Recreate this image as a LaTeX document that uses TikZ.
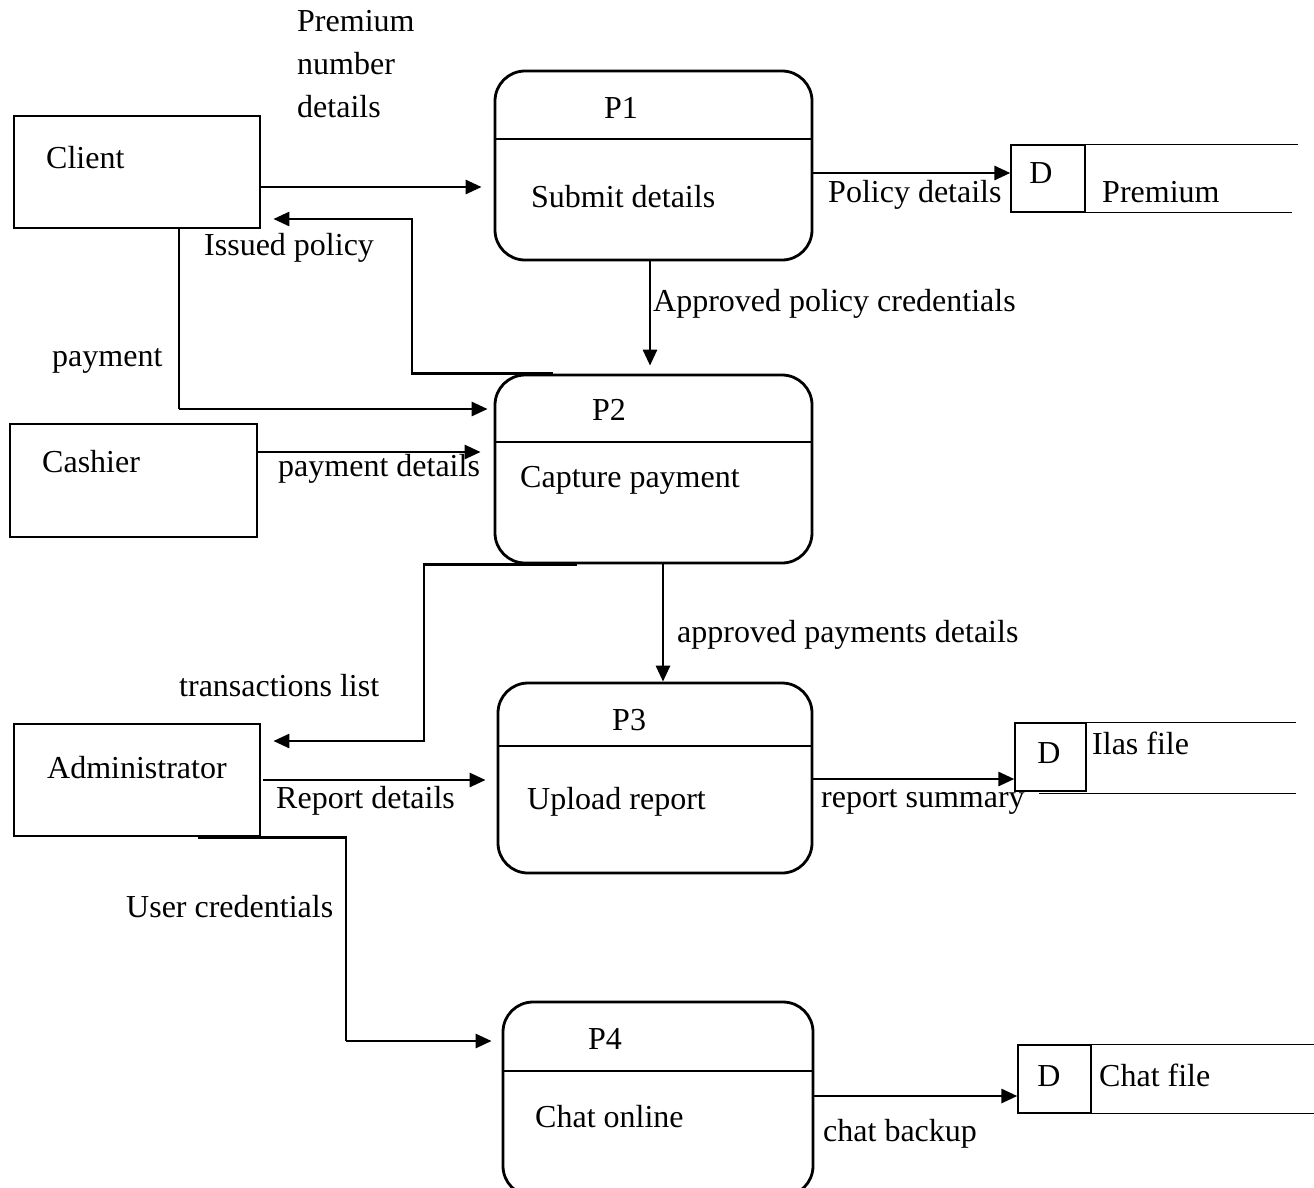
\documentclass[tikz,border=0pt]{standalone}
\usepackage{fontspec}
\setmainfont{Liberation Serif}
\usetikzlibrary{arrows.meta}
\begin{document}
\begin{tikzpicture}[x=1pt,y=-1pt,
  ent/.style={draw, line width=2.8pt, inner sep=0pt},
  proc/.style={draw, line width=2.8pt, rounded corners=30pt, inner sep=0pt},
  dbox/.style={draw, line width=1.3pt, inner sep=0pt},
  thinline/.style={line width=1.3pt},
  flow/.style={line width=2.8pt, -{Triangle[length=16pt,width=14pt]}},
  txt/.style={anchor=west, inner sep=0pt, text height=21pt, text depth=0pt,
              font=\fontsize{32}{40}\selectfont},
  ctxt/.style={txt, anchor=center},
]
\useasboundingbox (0,0) rectangle (1314,1187);
\clip (0,0) rectangle (1314,1187);
\fill[white] (0,0) rectangle (1314,1187);

% external entities
\node[ent, minimum width=246pt, minimum height=112pt] (client)  at (137,172)   {};
\node[ent, minimum width=247pt, minimum height=113pt] (cashier) at (133.5,480.5) {};
\node[ent, minimum width=246pt, minimum height=112pt] (admin)   at (137,780)   {};
\node[txt] (clientT)  at (46,158) {Client};
\node[txt] (cashierT) at (42,462) {Cashier};
\node[txt] (adminT)   at (47,768) {Administrator};

% processes
\node[proc, minimum width=317pt, minimum height=189pt] (P1) at (653.5,165.5) {};
\node[proc, minimum width=317pt, minimum height=188pt] (P2) at (653.5,469)   {};
\node[proc, minimum width=314pt, minimum height=190pt] (P3) at (655,778)     {};
\node[proc, minimum width=310pt, minimum height=194pt] (P4) at (658,1099)    {};
\draw[thinline] (P1.west |- 0,139)  -- (P1.east |- 0,139);
\draw[thinline] (P2.west |- 0,442)  -- (P2.east |- 0,442);
\draw[thinline] (P3.west |- 0,746)  -- (P3.east |- 0,746);
\draw[thinline] (P4.west |- 0,1071) -- (P4.east |- 0,1071);
\node[txt] (P1id) at (604,108)  {P1};
\node[txt] (P1n)  at (531,197)  {Submit details};
\node[txt] (P2id) at (592,410)  {P2};
\node[txt] (P2n)  at (520,477)  {Capture payment};
\node[txt] (P3id) at (612,720)  {P3};
\node[txt] (P3n)  at (527,799)  {Upload report};
\node[txt] (P4id) at (588,1039) {P4};
\node[txt] (P4n)  at (535,1117) {Chat online};

% data stores
\node[dbox, minimum width=74pt, minimum height=67pt] (dPrem) at (1048,178.5) {};
\draw[thinline] (dPrem.north east) -- ++(212,0);
\draw[thinline] ([xshift=22pt]dPrem.south west) -- ++(260,0);
\node[ctxt] (dPremD) at (1041,173) {D};
\node[txt] (dPremT) at (1102,192) {Premium};

\node[dbox, minimum width=71pt, minimum height=68pt] (dIlas) at (1050.5,757) {};
\draw[thinline] ([xshift=25pt]dIlas.north west) -- ++(257,0);
\draw[thinline] ([xshift=25pt]dIlas.south west) ++(0,2) -- ++(257,0);
\node[ctxt] (dIlasD) at (1049,753) {D};
\node[txt] (dIlasT) at (1092,744) {Ilas file};

\node[dbox, minimum width=73pt, minimum height=68pt] (dChat) at (1054.5,1079) {};
\draw[thinline] ([xshift=38pt]dChat.north west) -- ++(260,0);
\draw[thinline] ([xshift=38pt]dChat.south west) -- ++(260,0);
\node[ctxt] (dChatD) at (1049,1076) {D};
\node[txt] (dChatT) at (1099,1076) {Chat file};

% bend points of the flows
\coordinate (issX)  at (412,0);
\coordinate (issR)  at (553,0);
\coordinate (payX)  at (179,0);
\coordinate (trnX)  at (424,0);
\coordinate (trnR)  at (577,0);
\coordinate (usrX)  at (346,0);
\coordinate (usrL)  at (198,0);

% flows
\draw[flow, shorten >=12pt] (client.east |- 0,187) -- (P1.west |- 0,187);
\draw[flow] (P1.east |- 0,173) -- (dPrem.west |- 0,173);
\draw[flow, shorten >=12pt] (P2.north -| issR) -- (P2.north -| issX)
      -- (issX |- 0,219) -- (client.east |- 0,219);
\draw[thinline] (client.south -| payX) -- (payX |- 0,409);
\draw[flow, shorten >=6pt] (payX |- 0,409) -- (P2.west |- 0,409);
\draw[flow, shorten >=8pt] (P1.south -| 650,0) -- (P2.north -| 650,0);
\draw[flow, shorten >=13pt] (cashier.east |- 0,452) -- (P2.west |- 0,452);
\draw[flow, shorten >=12pt] (P2.south -| trnR) -- (P2.south -| trnX)
      -- (trnX |- 0,741) -- (admin.east |- 0,741);
\draw[flow] (P2.south -| 663,0) -- (P3.north -| 663,0);
\draw[flow, shorten >=11pt] ([xshift=2pt]admin.east |- 0,780) -- (P3.west |- 0,780);
\draw[flow] (P3.east |- 0,779) -- (dIlas.west |- 0,779);
\draw[line width=2.8pt] (admin.south -| usrL) -- (admin.south -| usrX) -- (usrX |- 0,1041);
\draw[flow, shorten >=10pt] (usrX |- 0,1041) -- (P4.west |- 0,1041);
\draw[flow] (P4.east |- 0,1096) -- (dChat.west |- 0,1096);

% flow labels
\node[txt] (lPrem1) at (297,21)  {Premium};
\node[txt] (lPrem2) at (297,64)  {number};
\node[txt] (lPrem3) at (297,107) {details};
\node[txt] (lIss)   at (204,245) {Issued policy};
\node[txt] (lPay)   at (52,356)  {payment};
\node[txt] (lApp)   at (653,301) {Approved policy credentials};
\node[txt] (lPol)   at (828,192) {Policy details};
\node[txt] (lPayD)  at (278,466) {payment details};
\node[txt] (lTrn)   at (179,686) {transactions list};
\node[txt] (lAppP)  at (677,632) {approved payments details};
\node[txt] (lRep)   at (276,798) {Report details};
\node[txt] (lSum)   at (821,797) {report summary};
\node[txt] (lUsr)   at (126,907) {User credentials};
\node[txt] (lChat)  at (823,1131) {chat backup};
\end{tikzpicture}
\end{document}
